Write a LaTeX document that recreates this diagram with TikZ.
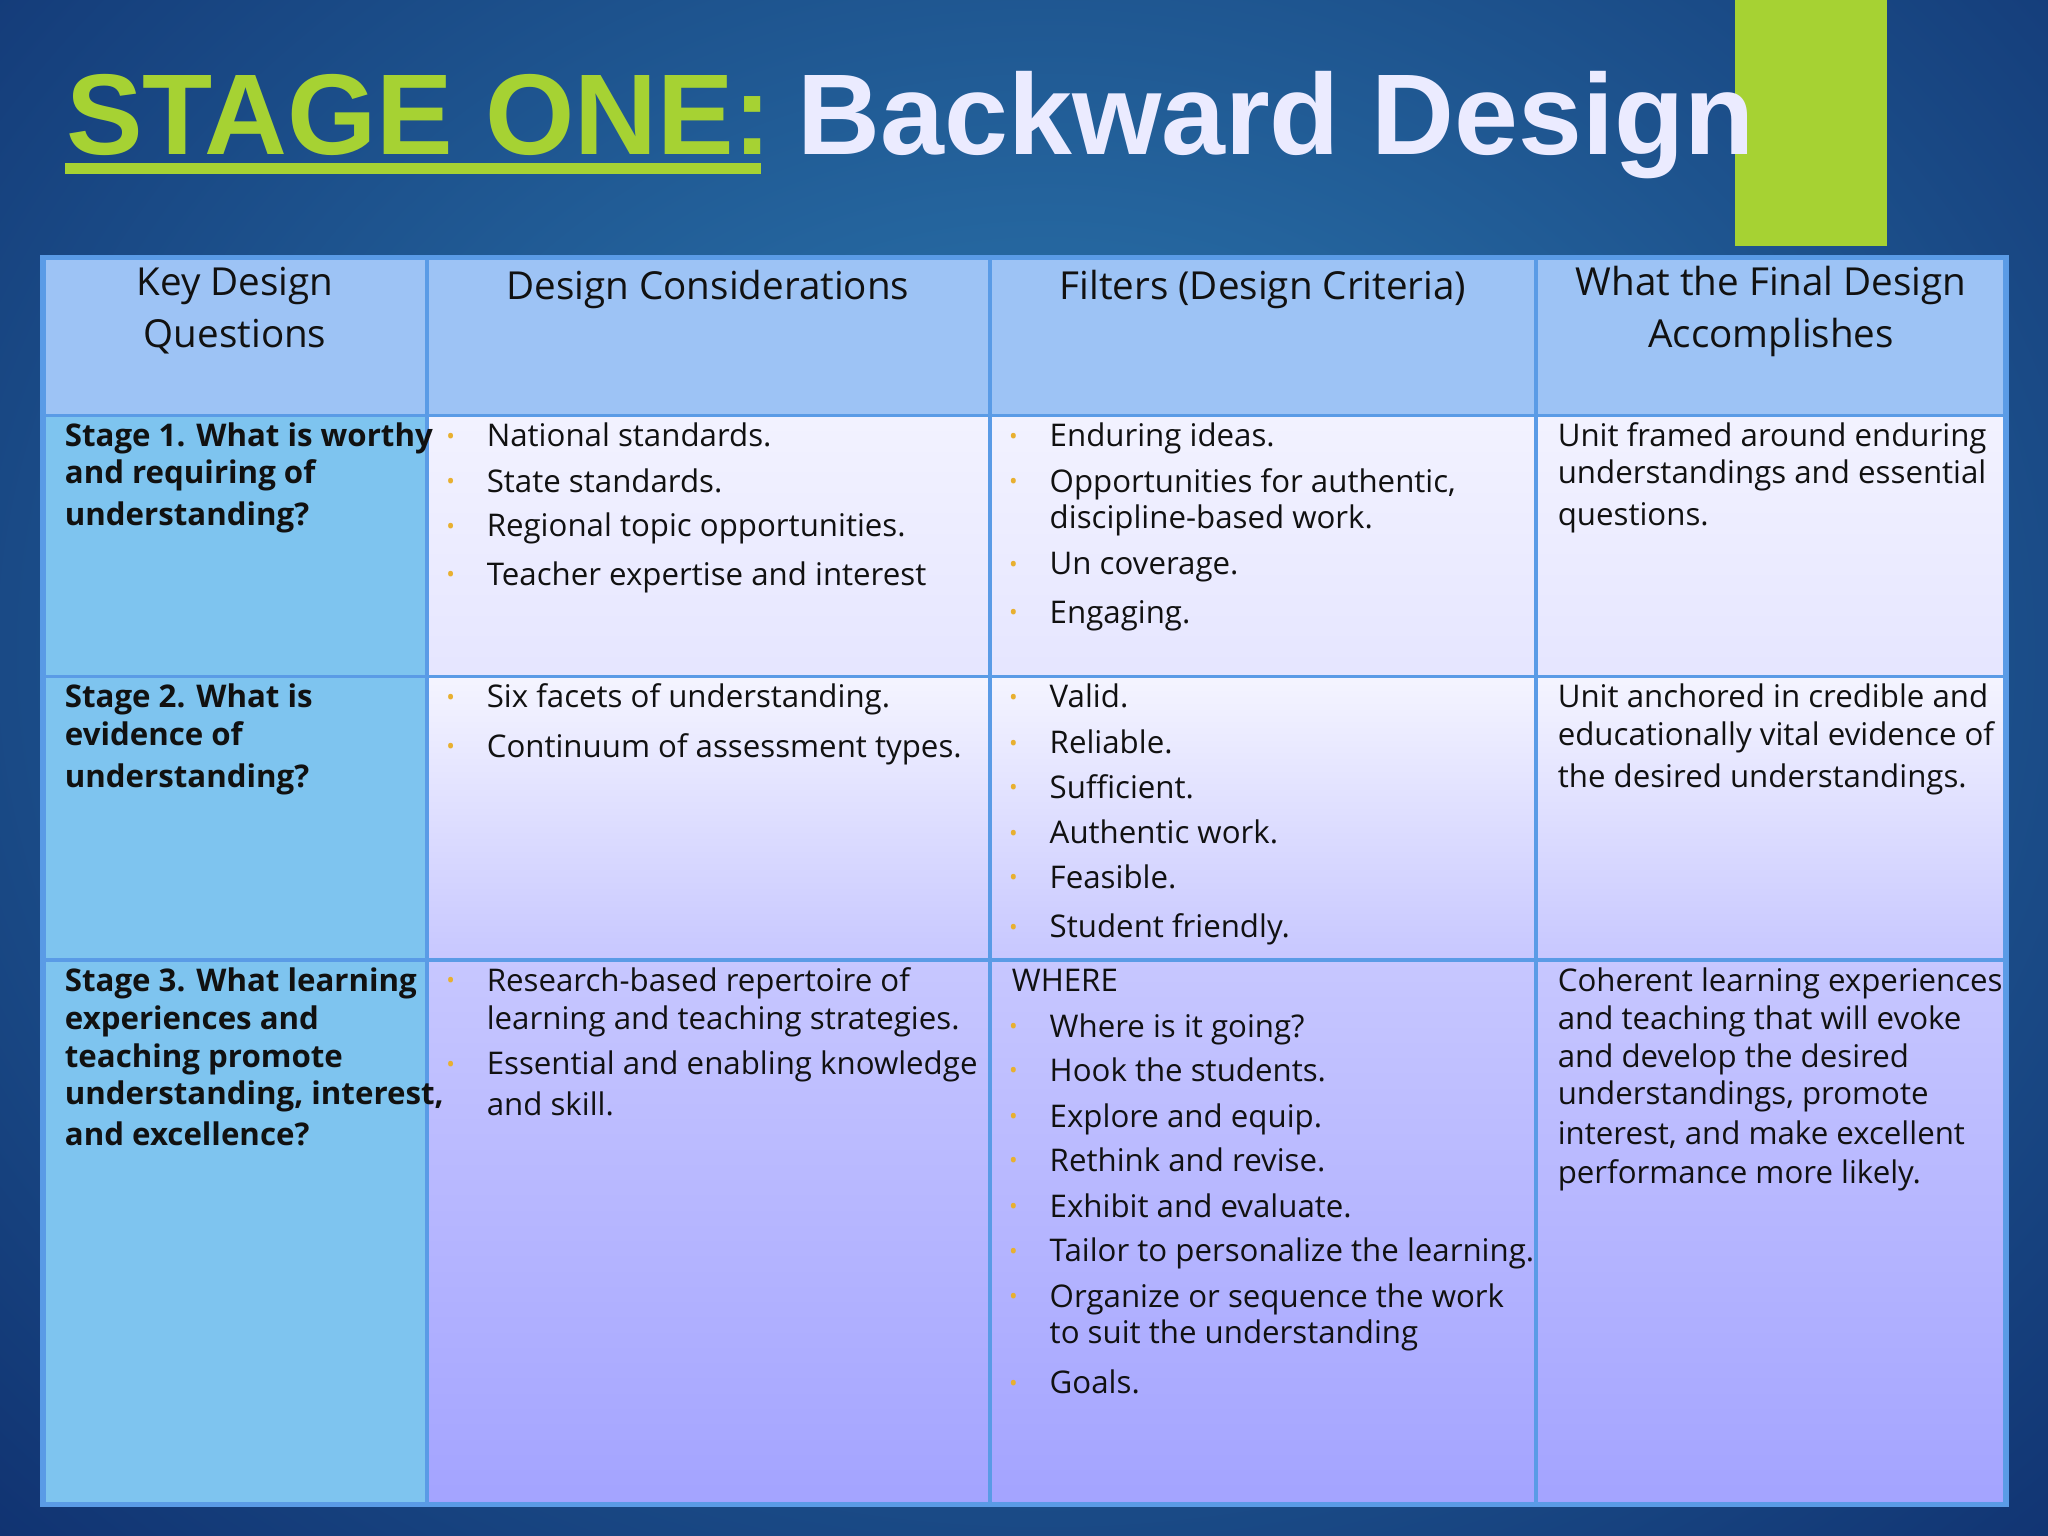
\documentclass[tikz,border=0pt]{standalone}
\usepackage{fontspec}
\setmainfont{Open Sans}
\newfontfamily\titlefont{Liberation Sans}
\definecolor{bg1}{HTML}{2F7FB5}
\definecolor{bg2}{HTML}{0F2F6E}
\definecolor{lime}{HTML}{A6D233}
\definecolor{hdr}{HTML}{9DC3F5}
\definecolor{colA}{HTML}{7EC4EF}
\definecolor{gridc}{HTML}{5A9BE6}
\definecolor{bulc}{HTML}{E8B030}
\definecolor{txtc}{HTML}{111111}
\tikzset{
  txt/.style={inner sep=0pt,anchor=base west,text=txtc,font=\fontsize{6.8pt}{8.3pt}\selectfont},
  btxt/.style={txt,font=\fontsize{6.8pt}{8.3pt}\selectfont\bfseries},
  htxt/.style={inner sep=0pt,anchor=base,text=txtc,font=\fontsize{8.4pt}{10pt}\selectfont},
  bul/.style={inner sep=0pt,anchor=base,text=bulc,font=\fontsize{5pt}{6pt}\selectfont},
}
\newcommand\tl[3]{\node[txt] at (#1,#2+8) {#3};}
\newcommand\bl[3]{\node[bul] at (#1-27,#2+6) {•};\node[txt] at (#1,#2+8) {#3};}
\newcommand\kl[2]{\node[btxt] at (49,#1+8) {#2};}
\begin{document}
\begin{tikzpicture}[x=0.01cm,y=-0.01cm]
\useasboundingbox (0,0) rectangle (1568,1176);
\shade[inner color=bg1,outer color=bg2] (-400,-500) rectangle (2000,1500);
\fill[lime] (1328,0) rectangle (1445,188);
\node[inner sep=0pt,anchor=base west,text=lime,font=\fontsize{25pt}{30pt}\selectfont\titlefont\bfseries] (t1) at (50,118) {STAGE ONE:};
\fill[lime] (50,125) rectangle (583,133);
\node[inner sep=0pt,anchor=base west,text=white!92!blue,font=\fontsize{25pt}{30pt}\selectfont\titlefont\bfseries] (t2) at (610,118) {Backward Design};
% cells
\fill[hdr] (33,197) rectangle (1536,318);
\fill[colA] (33,318) rectangle (327,1152);
\shade[top color=white!95!blue,bottom color=blue!10!white] (327,318) rectangle (1536,518);
\shade[top color=white!96!blue,bottom color=blue!22!white] (327,518) rectangle (1536,735);
\shade[top color=blue!22!white,bottom color=blue!36!white] (327,735) rectangle (1536,1152);
\draw[gridc,line width=1.2pt] (33,197) rectangle (1536,1152);
\foreach \x in {327,758,1176} \draw[gridc,line width=0.8pt] (\x,197) -- (\x,1152);
\foreach \y in {318,518,735} \draw[gridc,line width=0.8pt] (33,\y) -- (1536,\y);
% header
\node[htxt] at (180,226) {Key Design};
\node[htxt] at (180,266) {Questions};
\node[htxt] at (542,229) {Design Considerations};
\node[htxt] at (967,229) {Filters (Design Criteria)};
\node[htxt] at (1356,226) {What the Final Design};
\node[htxt] at (1356,266) {Accomplishes};
% column 1
\kl{334}{Stage 1. What is worthy}\kl{362}{and requiring of}\kl{394}{understanding?}
\kl{534}{Stage 2. What is}\kl{563}{evidence of}\kl{595}{understanding?}
\kl{751}{Stage 3. What learning}\kl{780}{experiences and}\kl{809}{teaching promote}\kl{838}{understanding, interest,}\kl{869}{and excellence?}
% column 2
\bl{372}{334}{National standards.}
\bl{372}{369}{State standards.}
\bl{372}{403}{Regional topic opportunities.}
\bl{372}{440}{Teacher expertise and interest}
\bl{372}{534}{Six facets of understanding.}
\bl{372}{572}{Continuum of assessment types.}
\bl{372}{751}{Research-based repertoire of}\tl{372}{780}{learning and teaching strategies.}
\bl{372}{815}{Essential and enabling knowledge}\tl{372}{846}{and skill.}
% column 3
\bl{803}{334}{Enduring ideas.}
\bl{803}{369}{Opportunities for authentic,}\tl{803}{397}{discipline-based work.}
\bl{803}{432}{Un coverage.}
\bl{803}{469}{Engaging.}
\bl{803}{534}{Valid.}
\bl{803}{569}{Reliable.}
\bl{803}{603}{Sufficient.}
\bl{803}{638}{Authentic work.}
\bl{803}{672}{Feasible.}
\bl{803}{710}{Student friendly.}
\tl{774}{751}{WHERE}
\bl{803}{786}{Where is it going?}
\bl{803}{820}{Hook the students.}
\bl{803}{855}{Explore and equip.}
\bl{803}{889}{Rethink and revise.}
\bl{803}{924}{Exhibit and evaluate.}
\bl{803}{958}{Tailor to personalize the learning.}
\bl{803}{993}{Organize or sequence the work}\tl{803}{1021}{to suit the understanding}
\bl{803}{1059}{Goals.}
% column 4
\tl{1192}{334}{Unit framed around enduring}\tl{1192}{362}{understandings and essential}\tl{1192}{394}{questions.}
\tl{1192}{534}{Unit anchored in credible and}\tl{1192}{563}{educationally vital evidence of}\tl{1192}{595}{the desired understandings.}
\tl{1192}{751}{Coherent learning experiences}\tl{1192}{780}{and teaching that will evoke}\tl{1192}{809}{and develop the desired}\tl{1192}{838}{understandings, promote}\tl{1192}{868}{interest, and make excellent}\tl{1192}{898}{performance more likely.}
\end{tikzpicture}
\end{document}
